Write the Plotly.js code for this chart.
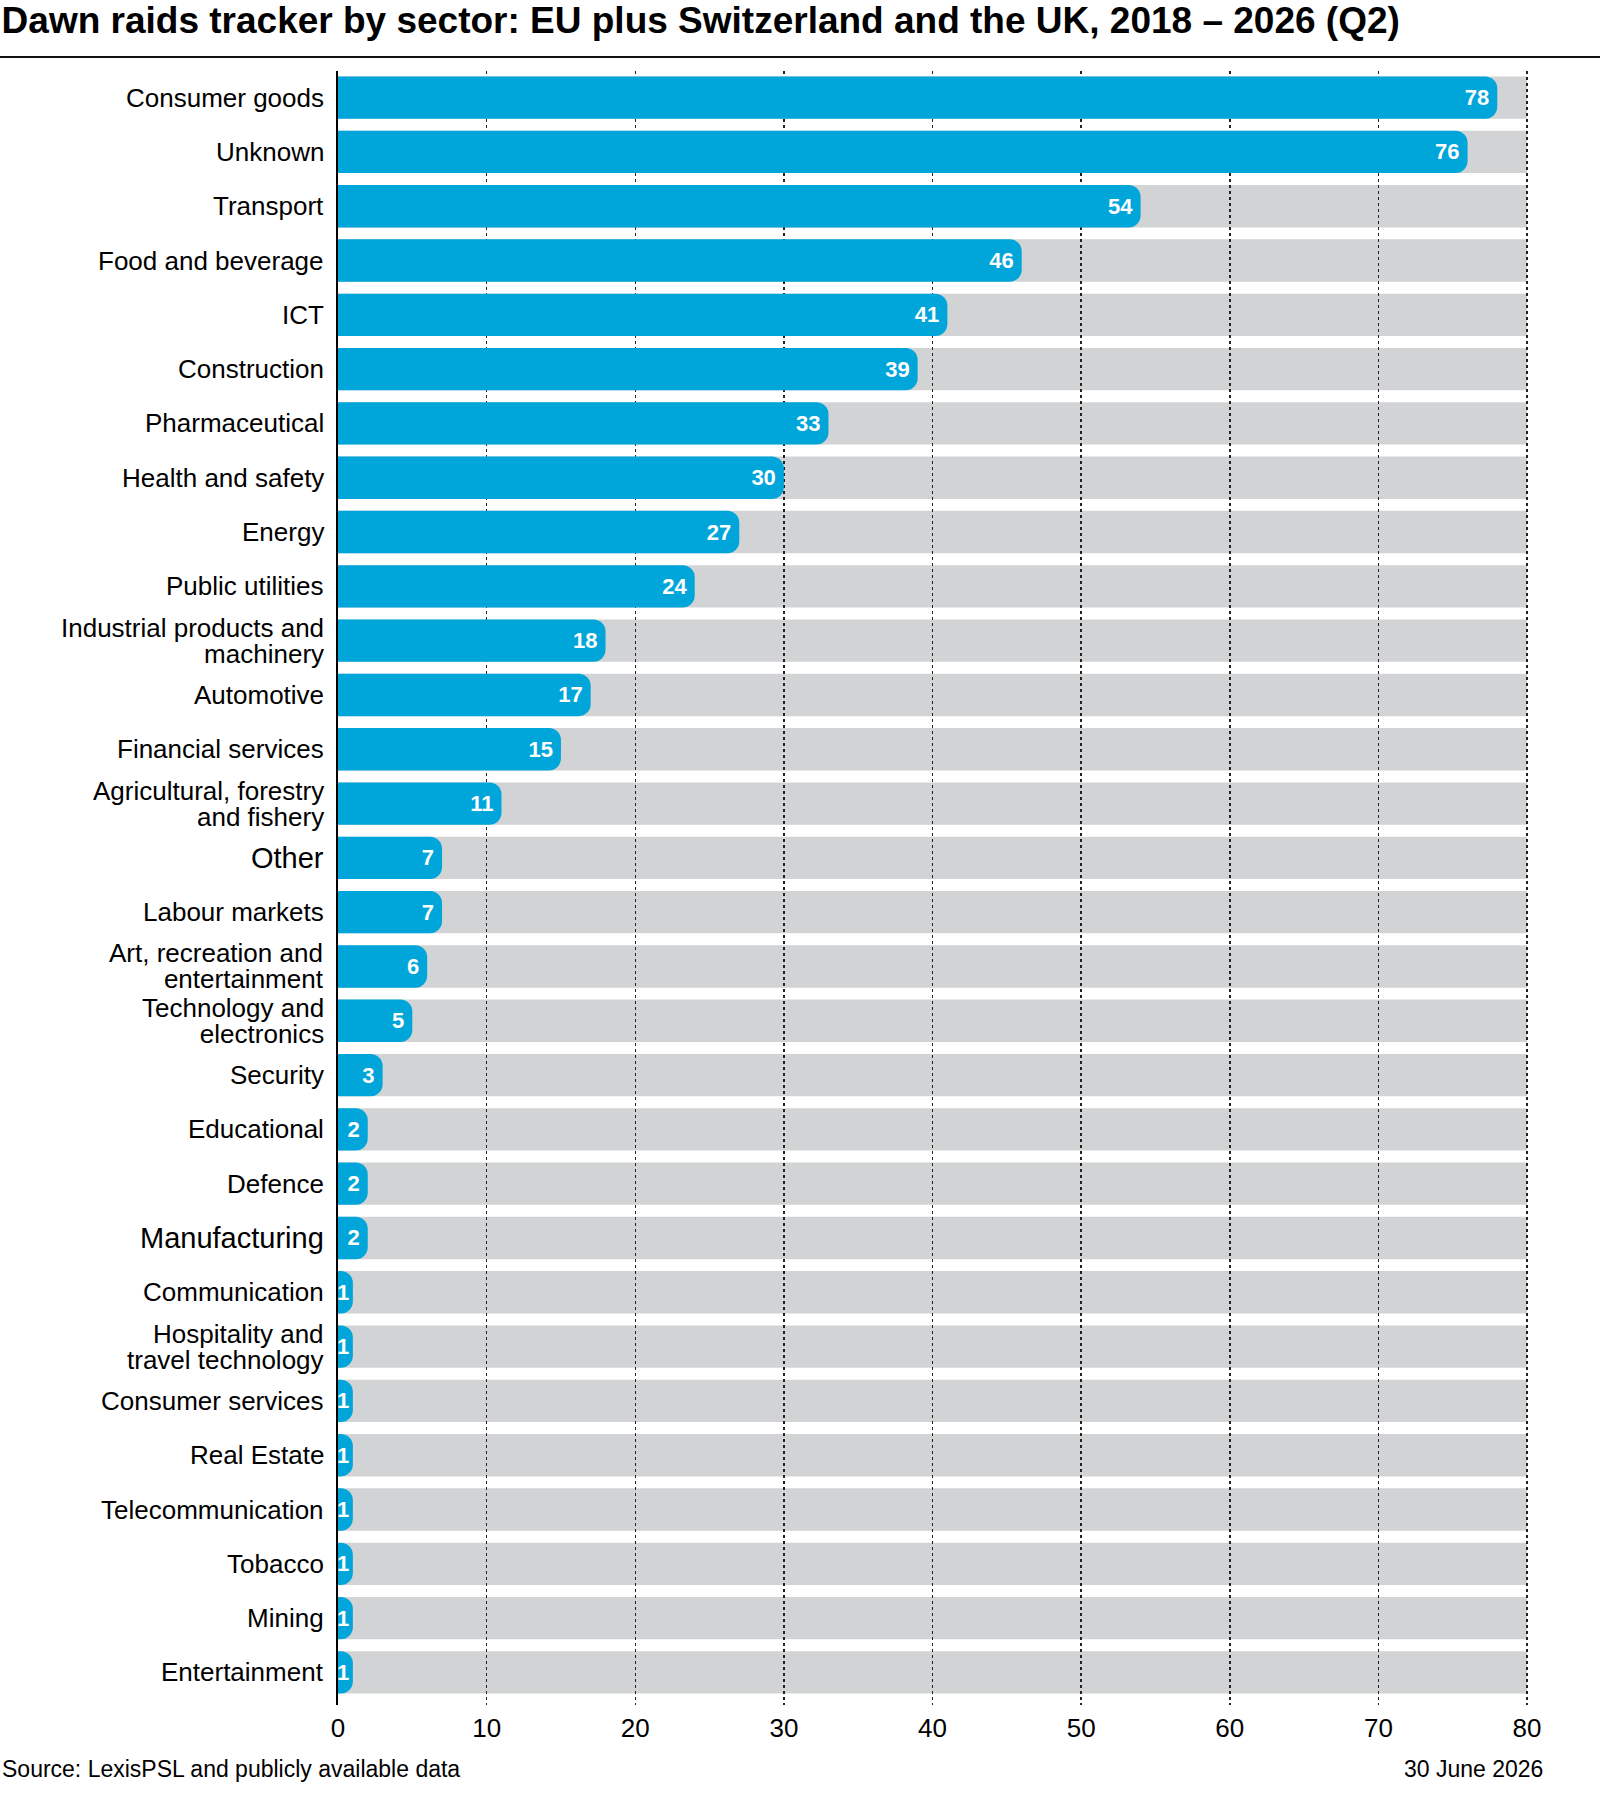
<!DOCTYPE html>
<html>
<head>
<meta charset="utf-8">
<script src="https://cdn.plot.ly/plotly-3.0.1.min.js"></script>
<style>
  body { margin: 0; background: #fff; }
  #chart { width: 1600px; height: 1800px; }
</style>
</head>
<body>
<div id="chart"></div>
<script>
"use strict"

// sectors, top to bottom; "\n" marks where the label wraps
var sectors = [
    "Consumer goods", "Unknown", "Transport", "Food and beverage", "ICT",
    "Construction", "Pharmaceutical", "Health and safety", "Energy",
    "Public utilities", "Industrial products and\nmachinery", "Automotive",
    "Financial services", "Agricultural, forestry\nand fishery", "Other",
    "Labour markets", "Art, recreation and\nentertainment",
    "Technology and\nelectronics", "Security", "Educational", "Defence",
    "Manufacturing", "Communication", "Hospitality and\ntravel technology",
    "Consumer services", "Real Estate", "Telecommunication", "Tobacco",
    "Mining", "Entertainment"
];
var raids = [78, 76, 54, 46, 41, 39, 33, 30, 27, 24, 18, 17, 15, 11, 7,
             7, 6, 5, 3, 2, 2, 2, 1, 1, 1, 1, 1, 1, 1, 1];
var xTicks = [0, 10, 20, 30, 40, 50, 60, 70, 80];
var axisMax = 80;

var titleText = "Dawn raids tracker by sector: EU plus Switzerland and the UK, 2018 \u2013 2026 (Q2)";
var sourceText = "Source: LexisPSL and publicly available data";
var dateText = "30 June 2026";

// a couple of labels are set a bit larger in the original
var labelSize = {"Other": 29, "Manufacturing": 29};

var W = 1600, H = 1800;
var m = {l: 338, r: 70, t: 71, b: 95, pad: 0};
var plotW = W - m.l - m.r;
var plotH = H - m.t - m.b;

function paperX(px) { return (px - m.l) / plotW; }
function paperY(py) { return (H - m.b - py) / plotH; }

var bodyFont = "Liberation Sans, Arial, sans-serif";
var narrowFont = "Liberation Sans Narrow, Liberation Sans, Arial, sans-serif";

var cats = sectors.map(function(s) { return s.replace("\n", " "); });
// a little more room below the last bar than above the first
var yRange = [cats.length - 0.4, -0.49];

var track = {
    type: 'bar',
    orientation: 'h',
    y: cats,
    x: cats.map(function() { return axisMax; }),
    xaxis: 'x',
    yaxis: 'y',
    marker: {color: '#d1d3d4'},
    hoverinfo: 'skip',
    showlegend: false
};

// thin space keeps the number off the rounded end; the 1-wide bars get none
var barText = raids.map(function(v) { return v > 1 ? v + "\u2009" : String(v); });

var bars = {
    type: 'bar',
    orientation: 'h',
    y: cats,
    x: raids,
    xaxis: 'x2',
    yaxis: 'y2',
    marker: {color: '#00a5da', cornerradius: 12},
    text: barText,
    textposition: 'inside',
    insidetextanchor: 'end',
    constraintext: 'none',
    textfont: {family: narrowFont, size: 22, weight: 700, color: '#ffffff'},
    hovertemplate: "%{y}: %{x}<extra></extra>",
    showlegend: false
};

var annotations = [];

// wrapped labels: 20px base font gives 26px line steps, glyphs drawn at full size
sectors.forEach(function(name, i) {
    var size = labelSize[name] || 26;
    var lines = name.split("\n");
    var text = lines.map(function(line) {
        return '<span style="font-size:' + size + 'px">' + line + '</span>';
    }).join('<br>');
    annotations.push({
        xref: 'paper', x: 0, xanchor: 'right', xshift: -12,
        yref: 'y2', y: i, yanchor: 'middle',
        text: lines.length > 1 ? text : name,
        align: 'right',
        showarrow: false,
        font: {family: bodyFont, size: lines.length > 1 ? 20 : size, color: '#000'}
    });
});

annotations.push({
    xref: 'paper', x: paperX(0), xanchor: 'left',
    yref: 'paper', y: paperY(1769), yanchor: 'middle',
    text: sourceText, showarrow: false,
    font: {family: bodyFont, size: 23, color: '#000'}
});
annotations.push({
    xref: 'paper', x: paperX(1545), xanchor: 'right',
    yref: 'paper', y: paperY(1769), yanchor: 'middle',
    text: dateText, showarrow: false,
    font: {family: bodyFont, size: 23, color: '#000'}
});

var layout = {
    width: W,
    height: H,
    margin: m,
    paper_bgcolor: '#ffffff',
    plot_bgcolor: 'rgba(0,0,0,0)',
    showlegend: false,
    bargap: 0.22,
    barmode: 'overlay',
    title: {
        text: titleText,
        font: {family: narrowFont, size: 37, weight: 700, color: '#000'},
        x: 0.001, xref: 'container', xanchor: 'left',
        y: 1 - 20 / H, yref: 'container', yanchor: 'middle'
    },
    xaxis: {domain: [0, 1], range: [0, axisMax + 0.2], visible: false, fixedrange: true},
    yaxis: {domain: [0, 1], type: 'category', range: yRange, visible: false, fixedrange: true},
    xaxis2: {
        domain: [0, 1], anchor: 'y2', range: [0, axisMax + 0.2],
        tickvals: xTicks, ticks: '', showgrid: true,
        gridcolor: '#222', griddash: 'dot', gridwidth: 1.5,
        zeroline: false, showline: false,
        tickfont: {family: bodyFont, size: 26, color: '#000'},
        ticklabelstandoff: 5, fixedrange: true
    },
    yaxis2: {
        domain: [0, 1], anchor: 'x2', type: 'category', range: yRange,
        showticklabels: false, ticks: '', showgrid: false, zeroline: false,
        showline: true, linecolor: '#000', linewidth: 2.5, layer: 'above traces',
        fixedrange: true
    },
    shapes: [{
        type: 'line', xref: 'paper', yref: 'paper',
        x0: paperX(0), x1: paperX(W), y0: paperY(57), y1: paperY(57),
        line: {color: '#111', width: 2}
    }],
    annotations: annotations
};

Plotly.newPlot('chart', [track, bars], layout, {displayModeBar: false, staticPlot: true});
</script>
</body>
</html>
